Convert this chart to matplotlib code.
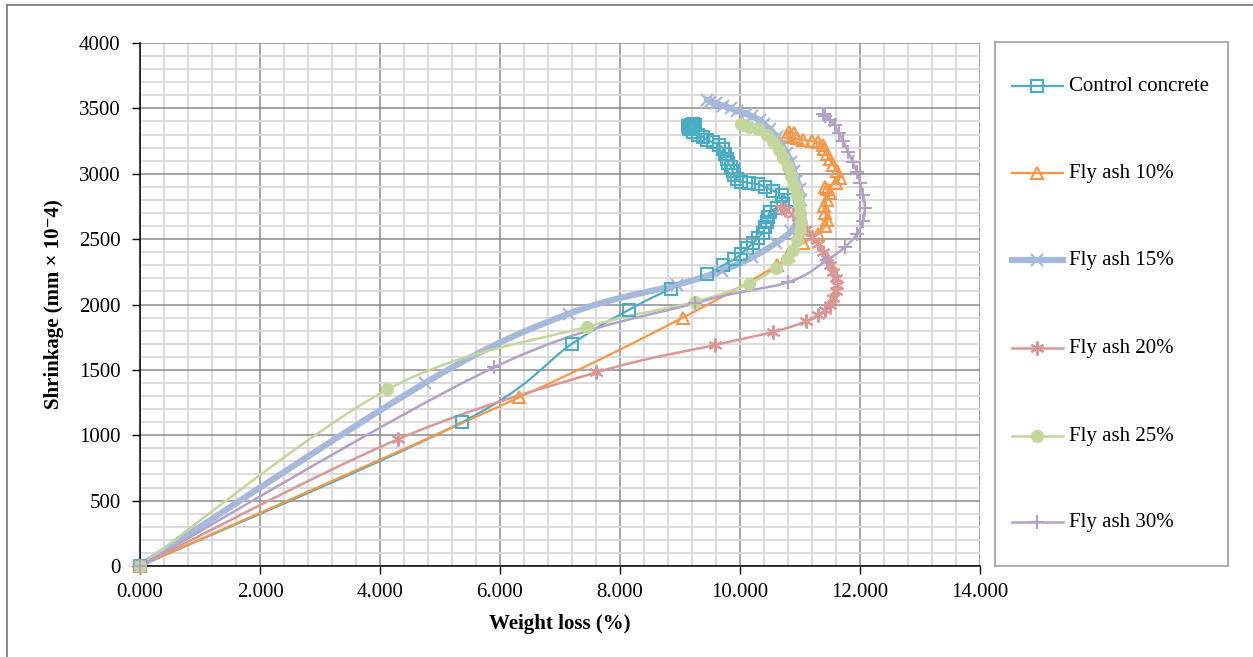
import numpy as np
import matplotlib
matplotlib.use("Agg")
from matplotlib import pyplot as plt
from matplotlib.lines import Line2D

plt.rcParams['font.family'] = ['Liberation Serif', 'DejaVu Serif']

# weight loss (%) / shrinkage (mm x 10^-4)
ctrl_x = [0, 5.37, 7.2, 8.15, 8.85, 9.45, 9.72, 9.9, 10.02, 10.12, 10.22, 10.3, 10.38, 10.42,
          10.45, 10.47, 10.5, 10.62, 10.72, 10.8, 10.7, 10.55, 10.42, 10.3, 10.15, 10.02, 9.95,
          9.9, 9.88, 9.85, 9.8, 9.78, 9.75, 9.72, 9.65, 9.55, 9.45, 9.38, 9.3, 9.22, 9.17, 9.15,
          9.13, 9.18, 9.22, 9.25, 9.2, 9.15]
ctrl_y = [0, 1100, 1700, 1960, 2120, 2230, 2300, 2345, 2390, 2430, 2470, 2510, 2550, 2590,
          2630, 2670, 2710, 2740, 2770, 2800, 2840, 2870, 2900, 2920, 2930, 2940, 2960,
          2990, 3020, 3050, 3080, 3110, 3150, 3190, 3220, 3240, 3260, 3280, 3300, 3320, 3340, 3350,
          3365, 3375, 3380, 3370, 3360, 3345]

fa10_x = [0, 6.32, 9.05, 10.62, 10.8, 11.05, 11.3, 11.42, 11.45, 11.42, 11.4, 11.45, 11.5, 11.45,
          11.42, 11.6, 11.66, 11.62, 11.55, 11.5, 11.45, 11.4, 11.38, 11.3, 11.2, 11.05, 10.95,
          10.85, 10.78, 10.82, 10.9]
fa10_y = [0, 1290, 1900, 2300, 2380, 2470, 2540, 2600, 2650, 2700, 2750, 2800, 2850, 2880,
          2900, 2930, 2970, 3020, 3070, 3110, 3150, 3190, 3220, 3240, 3250, 3260, 3270,
          3280, 3300, 3320, 3310]

fa15_x = [0, 4.75, 7.15, 8.95, 9.7, 10.2, 10.6, 10.85, 10.95, 11.0, 11.02, 11.0, 10.95, 10.9,
          10.85, 10.78, 10.7, 10.62, 10.5, 10.4, 10.33, 10.2, 10.1, 9.95, 9.85, 9.72, 9.6, 9.5, 9.45]
fa15_y = [0, 1400, 1930, 2150, 2260, 2360, 2470, 2560, 2640, 2720, 2800, 2880, 2950, 3020,
          3090, 3160, 3220, 3280, 3340, 3380, 3410, 3440, 3460, 3480, 3500, 3520, 3540, 3550, 3565]

fa20_x = [0, 4.3, 7.6, 9.58, 10.55, 11.1, 11.3, 11.42, 11.5, 11.55, 11.6, 11.62, 11.6, 11.55,
          11.5, 11.45, 11.38, 11.3, 11.2, 11.1, 11.0, 10.88, 10.75, 10.68]
fa20_y = [0, 970, 1480, 1690, 1790, 1870, 1920, 1960, 2000, 2050, 2100, 2150, 2200, 2250,
          2300, 2350, 2400, 2460, 2520, 2580, 2640, 2690, 2720, 2740]

fa25_x = [0, 4.12, 7.45, 9.25, 10.15, 10.6, 10.78, 10.88, 10.95, 11.0, 11.02, 11.0, 10.98, 10.95,
          10.9, 10.85, 10.8, 10.72, 10.65, 10.55, 10.45, 10.3, 10.15, 10.05, 10.02]
fa25_y = [0, 1350, 1830, 2020, 2160, 2280, 2350, 2420, 2490, 2560, 2630, 2700, 2770, 2840,
          2910, 2980, 3050, 3120, 3180, 3240, 3300, 3340, 3360, 3370, 3380]

fa30_x = [0, 5.9, 9.25, 10.8, 11.45, 11.75, 11.95, 12.05, 12.08, 12.05, 12.0, 11.95, 11.88, 11.8,
          11.72, 11.65, 11.58, 11.5, 11.42, 11.38]
fa30_y = [0, 1520, 2010, 2170, 2340, 2440, 2540, 2640, 2740, 2840, 2930, 3010, 3090, 3170,
          3250, 3310, 3370, 3410, 3440, 3460]

labels = ["Control concrete", "Fly ash 10%", "Fly ash 15%", "Fly ash 20%", "Fly ash 25%", "Fly ash 30%"]
xs = [ctrl_x, fa10_x, fa15_x, fa20_x, fa25_x, fa30_x]
ys = [ctrl_y, fa10_y, fa15_y, fa20_y, fa25_y, fa30_y]

asterisk = (6, 2, 0)
styles = [
    dict(color="#4BACC6", lw=1.6, marker="s", ms=8, mfc="none", mew=1.5),
    dict(color="#F79646", lw=1.6, marker="^", ms=9, mfc="none", mew=1.5),
    dict(color="#A7B9DA", lw=4.5, marker="x", ms=9, mfc="none", mew=1.6),
    dict(color="#D99795", lw=1.8, marker=asterisk, ms=10, mfc="none", mew=1.5),
    dict(color="#C3D69B", lw=1.8, marker="o", ms=9.5, mew=0),
    dict(color="#B3A2C7", lw=1.8, marker="+", ms=10, mew=1.5),
]


def smooth(x, y, n=10):
    # catmull-rom through the points, like Excel's smoothed line
    p = np.column_stack([x, y]).astype(float)
    p = np.vstack([p[0], p, p[-1]])
    t = np.linspace(0, 1, n, endpoint=False)[:, None]
    out = []
    for i in range(1, len(p) - 2):
        p0, p1, p2, p3 = p[i - 1], p[i], p[i + 1], p[i + 2]
        c = 0.5 * ((2 * p1) + (-p0 + p2) * t + (2 * p0 - 5 * p1 + 4 * p2 - p3) * t ** 2
                   + (-p0 + 3 * p1 - 3 * p2 + p3) * t ** 3)
        out.append(c)
    out.append(p[-2][None, :])
    out = np.vstack(out)
    return out[:, 0], out[:, 1]


fig = plt.figure(figsize=(12.53, 6.57), dpi=100)
W, H = 1253.0, 657.0
ax = fig.add_axes([140 / W, (H - 566) / H, 840 / W, 523 / H])

for x, y, st in zip(xs, ys, styles):
    sx, sy = smooth(x, y)
    ax.plot(sx, sy, color=st["color"], lw=st["lw"], solid_capstyle="round", zorder=3)
    mk = {k: v for k, v in st.items() if k not in ("lw",)}
    ax.plot(x, y, ls="none", clip_on=False, zorder=4, **mk)

ax.set_xlim(0, 14)
ax.set_ylim(0, 4000)
ax.set_xticks(np.arange(0, 14.1, 2))
ax.set_xticklabels(["%.3f" % v for v in np.arange(0, 14.1, 2)])
ax.set_yticks(np.arange(0, 4001, 500))
ax.set_xticks(np.arange(0, 14.01, 0.4), minor=True)
ax.set_yticks(np.arange(0, 4001, 100), minor=True)
ax.grid(which="minor", color="#D9D9D9", lw=1.3, zorder=0)
ax.grid(which="major", color="#8C8C8C", lw=1.1, zorder=1)
ax.set_axisbelow(True)
ax.tick_params(which="minor", length=0)
ax.tick_params(which="major", length=6, width=1, direction="out", labelsize=15, color="black")
ax.tick_params(axis="y", pad=8)
ax.tick_params(axis="x", pad=6)
for s in ("top", "right"):
    ax.spines[s].set_visible(False)
for s in ("left", "bottom"):
    ax.spines[s].set_color("black")
    ax.spines[s].set_linewidth(1.1)
    ax.spines[s].set_zorder(2)

ax.set_xlabel("Weight loss (%)", fontsize=15, fontweight="bold", labelpad=9)
ax.set_ylabel("Shrinkage (mm × 10\u207b4)", fontsize=15, fontweight="bold", labelpad=11)

# legend box
lg = fig.add_axes([995 / W, (H - 566) / H, 233 / W, 524 / H])
lg.set_xlim(995, 1228)
lg.set_ylim(566, 42)
lg.set_xticks([])
lg.set_yticks([])
for s in lg.spines.values():
    s.set_color("#A6A6A6")
    s.set_linewidth(1.3)
rows = [86, 173, 260, 348, 436, 522]
for yy, lab, st in zip(rows, labels, styles):
    lg.add_line(Line2D([1012, 1063], [yy, yy], color=st["color"], lw=st["lw"]))
    mk = {k: v for k, v in st.items() if k not in ("lw", "color")}
    lg.add_line(Line2D([1037], [yy], ls="none", color=st["color"], **mk))
    lg.text(1069, yy, lab, fontsize=15, va="center", ha="left")

# outer frame of the picture
fig.add_artist(Line2D([7 / W, 7 / W], [0, 1 - 5 / H], color="#7F7F7F", lw=1.3))
fig.add_artist(Line2D([7 / W, 1], [1 - 5 / H, 1 - 5 / H], color="#7F7F7F", lw=1.3))

fig.savefig("out.png", dpi=100)
